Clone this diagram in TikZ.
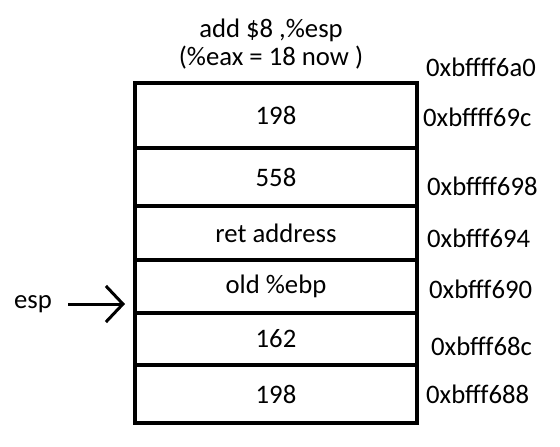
\documentclass[tikz,border=0pt]{standalone}
\usepackage{fontspec}
\setmainfont{Carlito}
\usetikzlibrary{arrows.meta}
\begin{document}
\begin{tikzpicture}[x=1pt, y=-1pt,
    txt/.style={font=\fontsize{26.7}{28}\selectfont},
    cell/.style={txt, draw, line width=4pt, minimum width=282pt, inner sep=0pt, outer sep=0pt},
    addr/.style={txt, anchor=base west, inner sep=0pt}]
    \useasboundingbox (0,0) rectangle (560,447);

    \node[txt, align=center, anchor=base, inner sep=0pt] (title) at (271,65) {add \$8 ,\%esp\\(\%eax = 18 now )};

    \node[cell, minimum height=65pt] (s1) at (276,115.5) {198};
    \node[cell, minimum height=58pt] (s2) at (276,177) {558};
    \node[cell, minimum height=54pt] (s3) at (276,233) {ret address};
    \node[cell, minimum height=53pt] (s4) at (276,286.5) {old \%ebp};
    \node[cell, minimum height=52pt] (s5) at (276,339) {162};
    \node[cell, minimum height=58pt] (s6) at (276,394) {198};

    \node[addr] (m0) at (426,76) {0xbffff6a0};
    \node[addr] (m1) at (423,126) {0xbffff69c};
    \node[addr] (m2) at (427,195) {0xbffff698};
    \node[addr] (m3) at (427,247) {0xbfff694};
    \node[addr] (m4) at (429,298) {0xbfff690};
    \node[addr] (m5) at (431,355) {0xbfff68c};
    \node[addr] (m6) at (426,403) {0xbfff688};

    \node[txt, inner sep=0pt] (esp) at (33,304) {esp};
    \coordinate (tip) at (125,304);
    \draw[-{Straight Barb[length=17pt, width=36pt]}, line width=3pt, shorten <=16pt] (esp) -- (tip);
\end{tikzpicture}
\end{document}
